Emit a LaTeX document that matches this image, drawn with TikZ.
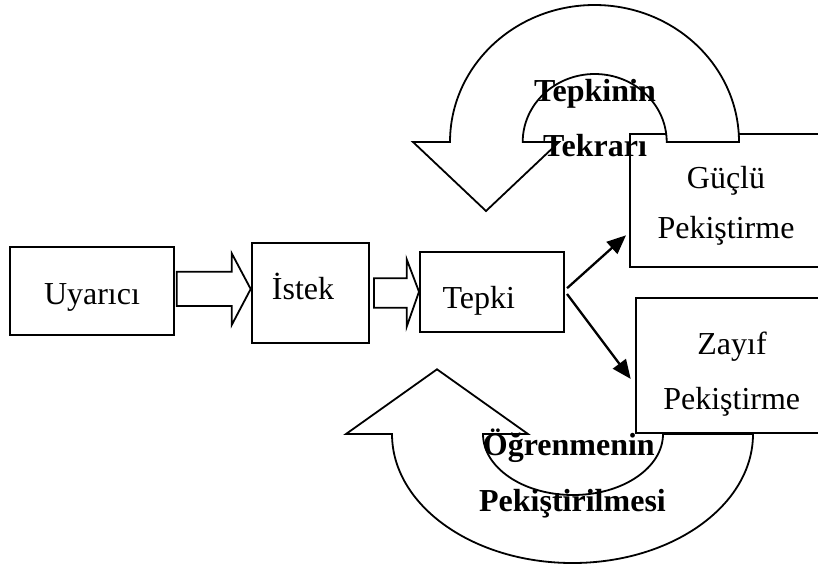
\documentclass[tikz,border=0pt]{standalone}
\usepackage{fontspec}
\setmainfont{Liberation Serif}
\usetikzlibrary{arrows.meta}

\tikzset{
  box/.style={draw, line width=2pt, rectangle, inner sep=0pt, fill=white},
  blockarrow/.style={draw, line width=1.8pt, fill=white, line join=miter},
  band/.style={draw, line width=1.8pt, fill=white, line join=miter},
  link/.style={draw, line width=2.3pt, -{Triangle[length=19pt,width=16pt]}},
  lbl/.style={anchor=base, inner sep=0pt, font=\fontsize{32}{36}\selectfont},
  blbl/.style={anchor=base, inner sep=0pt, font=\fontsize{32}{36}\selectfont\bfseries},
}

\begin{document}
\begin{tikzpicture}[x=1pt, y=-1pt]
  \useasboundingbox (0,0) rectangle (818,566);

  % boxes
  \node[box, minimum width=164pt, minimum height=88pt]     (uyarici) at (92,291)       {};
  \node[box, minimum width=117pt, minimum height=100pt]    (istek)   at (310.2,292.7)  {};
  \node[box, minimum width=144.3pt, minimum height=79.7pt] (tepki)   at (492.2,292.2)  {};
  \node[box, minimum width=200pt, minimum height=132.7pt]  (guclu)   at (730,200.3)    {};
  \node[box, minimum width=200pt, minimum height=135.3pt]  (zayif)   at (736,365.3)    {};

  % hollow block arrows between the first three boxes
  \draw[blockarrow] (176.7,271.7) -- (231.7,271.7) -- (231.7,253.3) -- (250.7,289)
        -- (231.7,325) -- (231.7,306) -- (176.7,306) -- cycle;
  \draw[blockarrow] (374,278.3) -- (406.7,278.3) -- (406.7,259.3) -- (419,291.7)
        -- (406.7,326.7) -- (406.7,307.7) -- (374,307.7) -- cycle;

  % branching arrows from Tepki
  \draw[link] ([xshift=1.7pt,yshift=4pt]tepki.east) -- ([xshift=-3pt,yshift=-35pt]guclu.west);
  \draw[link] ([xshift=1.7pt,yshift=-1.8pt]tepki.east) -- ([xshift=-4.3pt,yshift=-13.6pt]zayif.west);

  % curved return arrow above
  \draw[band] (739,142) arc[start angle=0, end angle=-180, x radius=144.5, y radius=137]
        -- (413,142) -- (486,211) -- (559,142) -- (522.7,142)
        arc[start angle=-180, end angle=0, x radius=72, y radius=68] -- cycle;

  % curved return arrow below
  \draw[band] (753,434) arc[start angle=0, end angle=180, x radius=180.5, y radius=129]
        -- (346,434) -- (437,369.3) -- (528,434) -- (483,434)
        arc[start angle=180, end angle=0, x radius=90, y radius=61] -- cycle;

  % labels
  \node[lbl] (tUyarici) at (92,304)      {Uyarıcı};
  \node[lbl] (tIstek)   at (303,299)     {İstek};
  \node[lbl] (tTepki)   at (478.7,308.3) {Tepki};
  \node[lbl] (tGuclu)   at (726,188.7)   {Güçlü};
  \node[lbl] (tPek1)    at (726,238.3)   {Pekiştirme};
  \node[lbl] (tZayif)   at (732,354)     {Zayıf};
  \node[lbl] (tPek2)    at (731.7,409.3) {Pekiştirme};

  \node[blbl] (tTepkinin) at (595,101.7)   {Tepkinin};
  \node[blbl] (tTekrari)  at (595,156.7)   {Tekrarı};
  \node[blbl] (tOgren)    at (568.8,455)   {Öğrenmenin};
  \node[blbl] (tPekist)   at (572.5,511.7) {Pekiştirilmesi};
\end{tikzpicture}
\end{document}
